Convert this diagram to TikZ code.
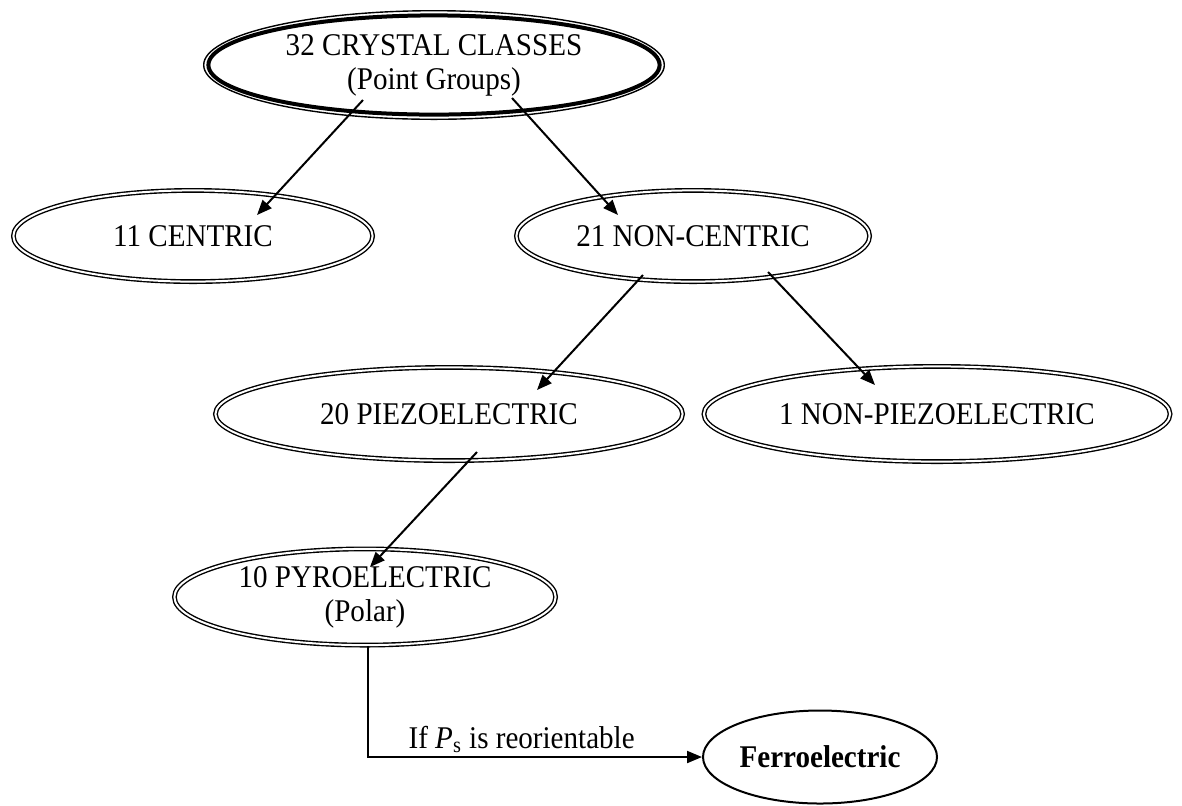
\documentclass[tikz,border=0pt]{standalone}
\usepackage{fontspec}
\setmainfont{Liberation Serif}[FakeStretch=0.92]
\usepackage{tikz}
\usetikzlibrary{positioning}
\usetikzlibrary{shapes.geometric}
\usetikzlibrary{arrows.meta}
\usetikzlibrary{calc}
\pgfdeclarelayer{nodelayer}
\pgfdeclarelayer{edgelayer}
\pgfsetlayers{nodelayer,edgelayer,main}
\tikzset{
    none/.style = {inner sep=0pt},
    class/.style = {ellipse, draw, double, line width=0.7pt, double distance=1pt, inner sep=0pt, align=center},
    ferro/.style = {ellipse, draw, line width=1pt, inner sep=0pt, font=\fontsize{15.8}{17}\selectfont\bfseries},
    link/.style = {-{Triangle[length=7.5pt, width=6pt]}, line width=1pt}
}

\begin{document}
\begin{tikzpicture}[x=0.5pt, y=-0.5pt, font=\fontsize{15.8}{17}\selectfont]
  \useasboundingbox (0, 0) rectangle (1182, 805);
  \begin{pgfonlayer}{nodelayer}
    \node [ellipse, draw, line width=0.7pt, inner sep=0pt, align=center, minimum width=230.3pt, minimum height=54.3pt] (0) at (434, 65) {32 CRYSTAL CLASSES\\(Point Groups)};
    \draw [line width=2pt] (0.center) ellipse [x radius=112.8pt, y radius=24.8pt];
    \node [class, minimum width=179.6pt, minimum height=45.6pt] (1) at (193, 236) {11 CENTRIC};
    \node [class, minimum width=176.6pt, minimum height=45.6pt] (2) at (693, 236) {21 NON-CENTRIC};
    \node [class, minimum width=233.6pt, minimum height=46.6pt] (3) at (449, 414) {20 PIEZOELECTRIC};
    \node [class, minimum width=233.1pt, minimum height=47.6pt] (4) at (937, 414) {1 NON-PIEZOELECTRIC};
    \node [class, minimum width=190.6pt, minimum height=48.1pt] (5) at (365, 597) {10 PYROELECTRIC\\(Polar)};
    \node [ferro, minimum width=117pt, minimum height=46.5pt] (6) at (820, 757) {Ferroelectric};
    % arrow ends inside the ellipses
    \coordinate (7) at ($(0)+(-71, 35)$);
    \coordinate (8) at ($(1)+(64, -21)$);
    \coordinate (9) at ($(0)+(78, 33)$);
    \coordinate (10) at ($(2)+(-75, -21)$);
    \coordinate (11) at ($(2)+(-50, 39)$);
    \coordinate (12) at ($(3)+(88, -24)$);
    \coordinate (13) at ($(2)+(75, 36)$);
    \coordinate (14) at ($(4)+(-62, -29)$);
    \coordinate (15) at ($(3)+(28, 38)$);
    \coordinate (16) at ($(5)+(5, -30)$);
    \coordinate (17) at ($(5.south)+(3, 0)$);
  \end{pgfonlayer}
  \begin{pgfonlayer}{edgelayer}
    \draw [link] (7) to (8);
    \draw [link] (9) to (10);
    \draw [link] (11) to (12);
    \draw [link] (13) to (14);
    \draw [link] (15) to (16);
    \draw [link] (17) |- node [pos=0.73, anchor=base, yshift=4.5pt] {If \textit{P}\textsubscript{s} is reorientable} (6.west);
  \end{pgfonlayer}
\end{tikzpicture}
\end{document}
